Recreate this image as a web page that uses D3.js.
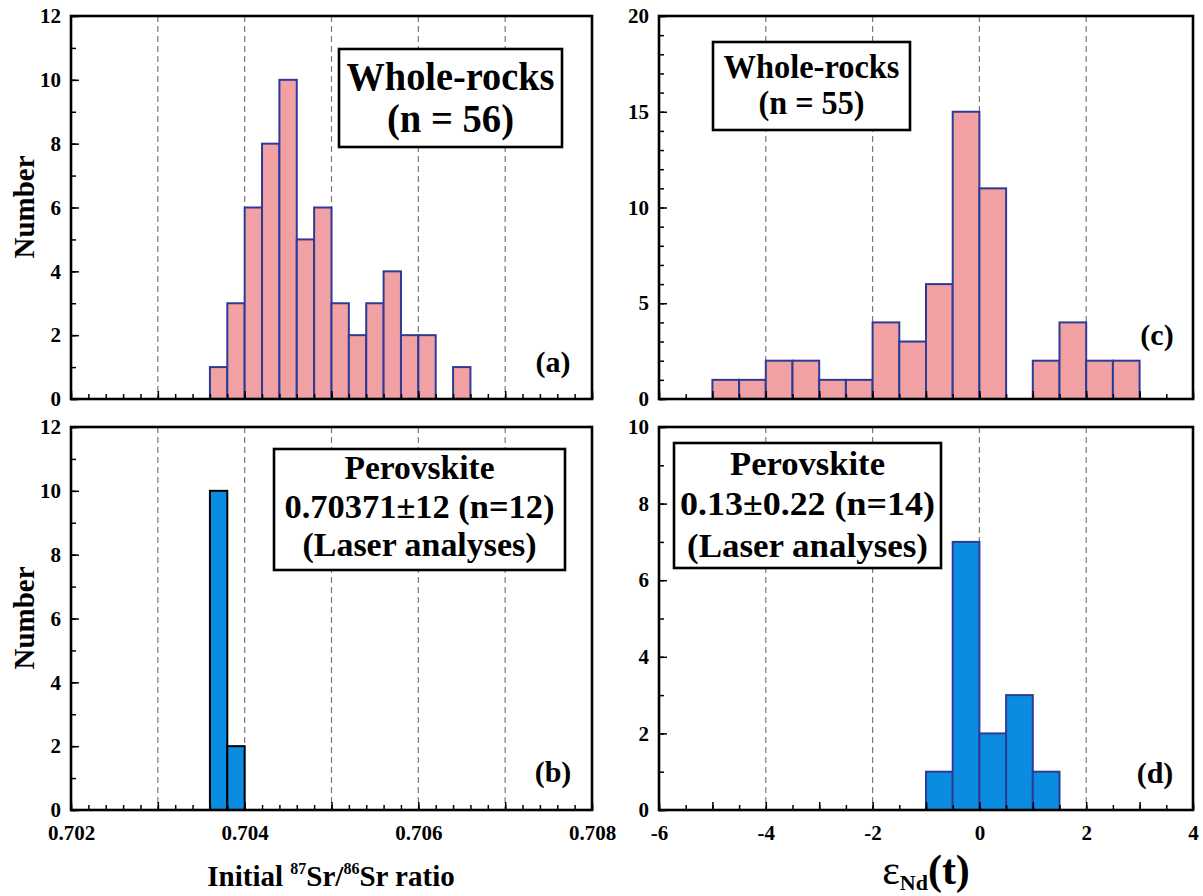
<!DOCTYPE html>
<html>
<head>
<meta charset="utf-8">
<script src="https://cdn.jsdelivr.net/npm/d3@7.9.0/dist/d3.min.js"></script>
<style>
  body { margin: 0; background: #fff; }
  svg { display: block; font-family: "Liberation Serif", "Times New Roman", serif; font-weight: bold; }
  .tick text { font-family: "Liberation Serif", "Times New Roman", serif; font-weight: bold; fill: #000; }
</style>
</head>
<body>
<svg id="chart" width="1203" height="896"></svg>
<script>
// ---- data ----
const srBinWidth = 0.0002;
const srWholeRockBins = [0.7036, 0.7038, 0.7040, 0.7042, 0.7044, 0.7046, 0.7048, 0.7050,
  0.7052, 0.7054, 0.7056, 0.7058, 0.7060, 0.7062, 0.7064];
const srWholeRockCounts = [1, 3, 6, 8, 10, 5, 6, 3, 2, 3, 4, 2, 2, 0, 1];
const srPerovskiteBins = [0.7036, 0.7038];
const srPerovskiteCounts = [10, 2];

const ndBinWidth = 0.5;
const ndWholeRockBins = [-5, -4.5, -4, -3.5, -3, -2.5, -2, -1.5, -1, -0.5, 0, 0.5, 1, 1.5, 2, 2.5];
const ndWholeRockCounts = [1, 1, 2, 2, 1, 1, 4, 3, 6, 15, 11, 0, 2, 4, 2, 2];
const ndPerovskiteBins = [-1, -0.5, 0, 0.5, 1];
const ndPerovskiteCounts = [1, 7, 2, 3, 1];

const srDomain = [0.702, 0.708];
const srLabelTicks = [0.702, 0.704, 0.706, 0.708];
const srGridTicks = [0.703, 0.704, 0.705, 0.706, 0.707];
const ndDomain = [-6, 4];
const ndLabelTicks = [-6, -4, -2, 0, 2, 4];
const ndGridTicks = [-4, -2, 0, 2];

const pink = '#f1a1a4';
const navy = '#2e3b96';
const blue = '#0a8ce0';

const svg = d3.select('#chart');

function drawPanel(cfg) {
  const x = d3.scaleLinear().domain(cfg.xDomain).range([cfg.left, cfg.right]);
  const y = d3.scaleLinear().domain(cfg.yDomain).range([cfg.bottom, cfg.top]);
  const g = svg.append('g');

  // dashed grid
  g.append('g')
    .selectAll('line')
    .data(cfg.gridTicks)
    .join('line')
    .attr('x1', (d) => x(d))
    .attr('x2', (d) => x(d))
    .attr('y1', cfg.top)
    .attr('y2', cfg.bottom)
    .attr('stroke', '#7a7a7a')
    .attr('stroke-width', 1.2)
    .attr('stroke-dasharray', '6,4');

  // bars
  const bars = cfg.bins.map((b, i) => ({ x0: b, x1: b + cfg.binWidth, n: cfg.counts[i] }))
    .filter((d) => d.n > 0);
  g.append('g')
    .selectAll('rect')
    .data(bars)
    .join('rect')
    .attr('x', (d) => x(d.x0))
    .attr('width', (d) => x(d.x1) - x(d.x0))
    .attr('y', (d) => y(d.n))
    .attr('height', (d) => y(0) - y(d.n))
    .attr('fill', cfg.fill)
    .attr('stroke', cfg.stroke)
    .attr('stroke-width', 2);

  // ticks (inward)
  const xAxisG = (axis) => g.append('g')
    .attr('transform', `translate(0,${cfg.bottom})`)
    .call(axis)
    .call((s) => s.select('.domain').remove());
  xAxisG(d3.axisBottom(x).tickValues(cfg.xMinor).tickSize(-5).tickFormat(''));
  xAxisG(d3.axisBottom(x).tickValues(cfg.xMajor).tickSize(-8).tickFormat(''));
  if (cfg.xLabels) {
    xAxisG(d3.axisBottom(x).tickValues(cfg.xLabels).tickSize(0).tickPadding(15)
      .tickFormat(cfg.xFormat))
      .selectAll('text').attr('font-size', 21);
  }

  const yAxisG = (axis) => g.append('g')
    .attr('transform', `translate(${cfg.left},0)`)
    .call(axis)
    .call((s) => s.select('.domain').remove());
  yAxisG(d3.axisLeft(y).tickValues(cfg.yMinor).tickSize(-5).tickFormat(''));
  yAxisG(d3.axisLeft(y).tickValues(cfg.yMajor).tickSize(-8).tickFormat(''));
  yAxisG(d3.axisLeft(y).tickValues(cfg.yMajor).tickSize(0).tickPadding(10).tickFormat(d3.format('d')))
    .selectAll('text').attr('font-size', 21);

  g.selectAll('.tick line').attr('stroke', '#000').attr('stroke-width', 1.5);

  // frame
  g.append('rect')
    .attr('x', cfg.left)
    .attr('y', cfg.top)
    .attr('width', cfg.right - cfg.left)
    .attr('height', cfg.bottom - cfg.top)
    .attr('fill', 'none')
    .attr('stroke', '#000')
    .attr('stroke-width', 2.6);

  // legend box
  const b = cfg.box;
  g.append('rect')
    .attr('x', b.x0).attr('y', b.y0)
    .attr('width', b.x1 - b.x0).attr('height', b.y1 - b.y0)
    .attr('fill', '#fff').attr('stroke', '#000').attr('stroke-width', 2.6);
  b.lines.forEach((ln) => {
    g.append('text')
      .attr('x', (b.x0 + b.x1) / 2)
      .attr('y', ln.y)
      .attr('text-anchor', 'middle')
      .attr('font-size', b.size)
      .attr('textLength', ln.len)
      .attr('lengthAdjust', 'spacingAndGlyphs')
      .text(ln.text);
  });

  // panel tag
  g.append('text')
    .attr('x', cfg.tag.x)
    .attr('y', cfg.tag.y)
    .attr('text-anchor', 'middle')
    .attr('font-size', 30)
    .text(cfg.tag.text);

  return { x, y };
}

const srMinor = d3.range(0, 31).map((i) => 0.702 + i * 0.0002);
const srMajor = d3.range(0, 7).map((i) => 0.702 + i * 0.001);
const ndMinor = d3.range(0, 21).map((i) => -6 + i * 0.5);
const ndMajor = d3.range(-6, 5, 1);
const hyphenInt = (d) => d3.format('d')(d).replace('\u2212', '-');

// (a)
drawPanel({
  left: 71, right: 592, top: 16, bottom: 399,
  xDomain: srDomain, yDomain: [0, 12],
  bins: srWholeRockBins, counts: srWholeRockCounts, binWidth: srBinWidth,
  fill: pink, stroke: navy,
  gridTicks: srGridTicks, xMinor: srMinor, xMajor: srMajor, xLabels: null,
  yMinor: d3.range(0, 13), yMajor: d3.range(0, 13, 2),
  box: { x0: 339, x1: 562, y0: 49, y1: 147, size: 40, lines: [
    { text: 'Whole-rocks', y: 90, len: 208 },
    { text: '(n = 56)', y: 132, len: 127 },
  ] },
  tag: { text: '(a)', x: 553, y: 372 },
});

// (b)
drawPanel({
  left: 71, right: 592, top: 427, bottom: 810,
  xDomain: srDomain, yDomain: [0, 12],
  bins: srPerovskiteBins, counts: srPerovskiteCounts, binWidth: srBinWidth,
  fill: blue, stroke: '#000',
  gridTicks: srGridTicks, xMinor: srMinor, xMajor: srMajor, xLabels: srLabelTicks,
  xFormat: d3.format('.3f'),
  yMinor: d3.range(0, 13), yMajor: d3.range(0, 13, 2),
  box: { x0: 274, x1: 565, y0: 449, y1: 570, size: 33, lines: [
    { text: 'Perovskite', y: 479, len: 150 },
    { text: '0.70371\u00b112 (n=12)', y: 518, len: 270 },
    { text: '(Laser analyses)', y: 556, len: 234 },
  ] },
  tag: { text: '(b)', x: 553, y: 782 },
});

// (c)
drawPanel({
  left: 659, right: 1193, top: 16, bottom: 399,
  xDomain: ndDomain, yDomain: [0, 20],
  bins: ndWholeRockBins, counts: ndWholeRockCounts, binWidth: ndBinWidth,
  fill: pink, stroke: navy,
  gridTicks: ndGridTicks, xMinor: ndMinor, xMajor: ndMajor, xLabels: null,
  yMinor: d3.range(0, 21), yMajor: d3.range(0, 21, 5),
  box: { x0: 713, x1: 910, y0: 42, y1: 130, size: 34, lines: [
    { text: 'Whole-rocks', y: 78, len: 176 },
    { text: '(n = 55)', y: 114, len: 106 },
  ] },
  tag: { text: '(c)', x: 1157, y: 345 },
});

// (d)
drawPanel({
  left: 659, right: 1193, top: 427, bottom: 810,
  xDomain: ndDomain, yDomain: [0, 10],
  bins: ndPerovskiteBins, counts: ndPerovskiteCounts, binWidth: ndBinWidth,
  fill: blue, stroke: navy,
  gridTicks: ndGridTicks, xMinor: ndMinor, xMajor: ndMajor, xLabels: ndLabelTicks,
  xFormat: hyphenInt,
  yMinor: d3.range(0, 11), yMajor: d3.range(0, 11, 2),
  box: { x0: 674, x1: 941, y0: 443, y1: 568, size: 33, lines: [
    { text: 'Perovskite', y: 475, len: 155 },
    { text: '0.13\u00b10.22 (n=14)', y: 515, len: 255 },
    { text: '(Laser analyses)', y: 557, len: 241 },
  ] },
  tag: { text: '(d)', x: 1155, y: 783 },
});

// axis titles
[207, 618].forEach((cy) => {
  svg.append('text')
    .attr('transform', `translate(34,${cy}) rotate(-90)`)
    .attr('text-anchor', 'middle')
    .attr('font-size', 29)
    .text('Number');
});

const srTitle = svg.append('text')
  .attr('x', 331).attr('y', 886)
  .attr('text-anchor', 'middle')
  .attr('font-size', 29);
srTitle.append('tspan').text('Initial ');
srTitle.append('tspan').attr('font-size', 16).attr('dy', -12).text('87');
srTitle.append('tspan').attr('dy', 12).text('Sr/');
srTitle.append('tspan').attr('font-size', 16).attr('dy', -12).text('86');
srTitle.append('tspan').attr('dy', 12).text('Sr ratio');

const ndTitle = svg.append('text')
  .attr('x', 926).attr('y', 884)
  .attr('text-anchor', 'middle');
ndTitle.append('tspan').attr('font-size', 42).attr('font-weight', 'normal').text('\u03b5');
ndTitle.append('tspan').attr('font-size', 22).attr('dy', 6).text('Nd');
ndTitle.append('tspan').attr('font-size', 42).attr('dy', -6).text('(t)');
</script>
</body>
</html>
